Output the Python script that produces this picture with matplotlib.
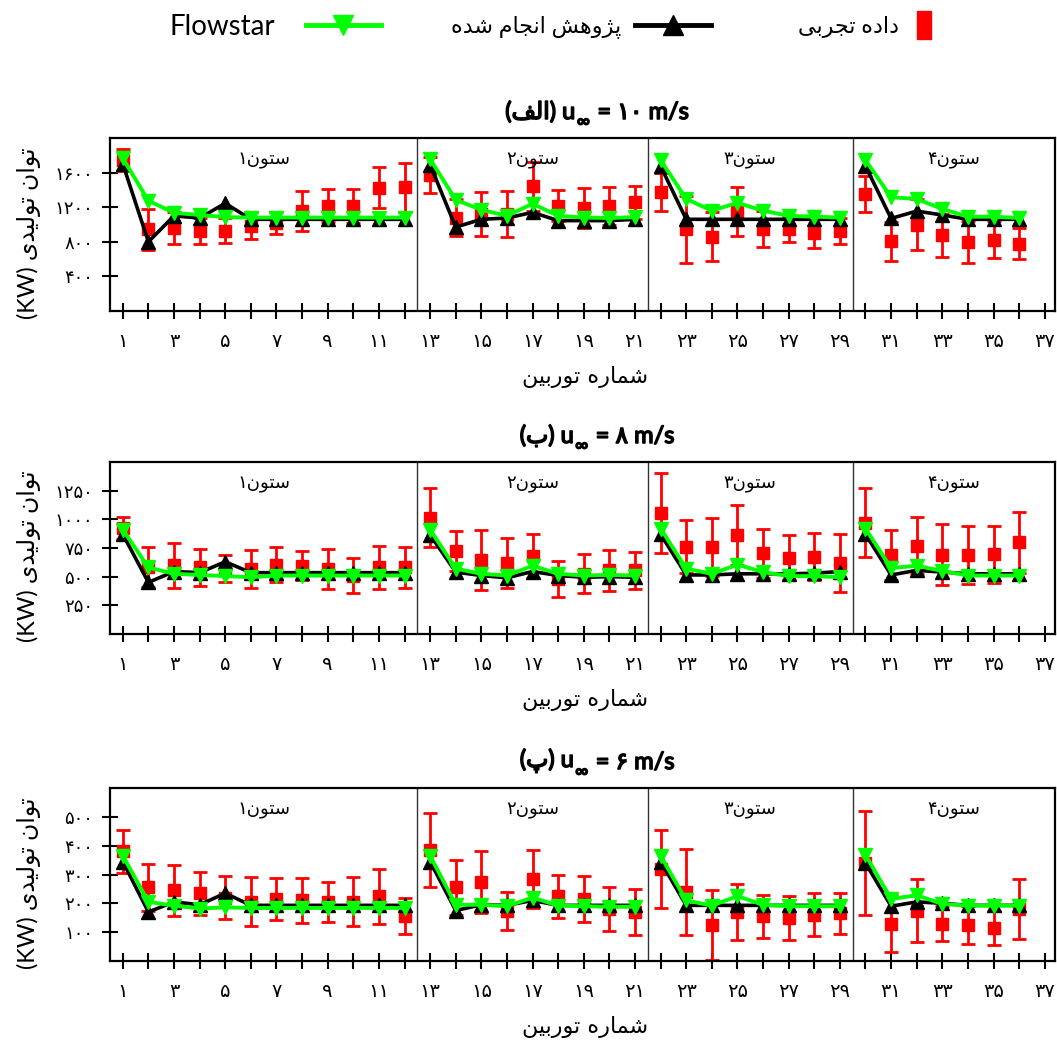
import matplotlib
matplotlib.use("Agg")
import matplotlib.pyplot as plt
import matplotlib.patheffects as pe
from matplotlib.lines import Line2D
from matplotlib.text import Annotation
import numpy as np

# ---- data -------------------------------------------------------------
turbines = np.arange(1, 37)
columns = [(1, 12), (13, 21), (22, 29), (30, 36)]
col_bounds = [0.5, 12.5, 21.5, 29.5, 37.4]

exp_10 = [1745, 945, 960, 925, 930, 985, 1020, 1160, 1215, 1215, 1425, 1430,
          1570, 1080, 1120, 1120, 1440, 1215, 1190, 1215, 1255,
          1375, 945, 860, 1150, 945, 950, 905, 925,
          1355, 805, 1000, 875, 800, 825, 780]
err_10 = [125, 235, 190, 150, 140, 155, 130, 230, 190, 200, 240, 285,
          210, 215, 250, 270, 285, 180, 235, 220, 190,
          215, 385, 280, 285, 210, 150, 175, 150,
          205, 225, 290, 245, 245, 215, 175]
sim_10 = [1700, 800, 1100, 1075, 1245, 1060, 1060, 1060, 1060, 1060, 1060, 1060,
          1690, 970, 1060, 1075, 1140, 1045, 1045, 1045, 1060,
          1675, 1060, 1060, 1060, 1060, 1060, 1060, 1060,
          1675, 1070, 1155, 1110, 1060, 1060, 1060]
flow_10 = [1765, 1275, 1135, 1110, 1085, 1080, 1080, 1080, 1080, 1080, 1080, 1080,
           1755, 1285, 1170, 1100, 1240, 1100, 1080, 1075, 1085,
           1745, 1295, 1160, 1250, 1160, 1100, 1090, 1080,
           1745, 1315, 1295, 1180, 1090, 1090, 1075]

exp_8 = [925, 585, 600, 580, 570, 570, 605, 595, 570, 510, 580, 580,
         1015, 725, 645, 620, 680, 480, 525, 555, 555,
         1055, 760, 760, 865, 705, 665, 675, 620,
         970, 690, 770, 690, 690, 695, 800]
err_8 = [95, 175, 195, 165, 115, 165, 150, 125, 175, 150, 190, 175,
         255, 175, 260, 215, 190, 160, 170, 180, 160,
         350, 230, 250, 260, 215, 195, 205, 255,
         300, 215, 250, 265, 255, 250, 265]
sim_8 = [870, 450, 545, 535, 630, 535, 535, 535, 535, 535, 535, 535,
         865, 540, 510, 490, 545, 510, 495, 500, 495,
         870, 515, 515, 525, 525, 525, 530, 545,
         870, 515, 555, 540, 525, 525, 525]
flow_8 = [910, 580, 525, 515, 505, 495, 510, 510, 510, 510, 510, 510,
          910, 570, 525, 510, 595, 525, 510, 515, 510,
          920, 570, 525, 605, 540, 505, 505, 495,
          920, 575, 595, 550, 510, 510, 510]

exp_6 = [380, 255, 245, 235, 220, 205, 215, 210, 205, 205, 225, 155,
         385, 255, 275, 175, 285, 225, 215, 180, 170,
         320, 240, 125, 170, 155, 150, 160, 165,
         340, 130, 175, 130, 125, 115, 180]
err_6 = [75, 80, 88, 75, 75, 85, 72, 77, 70, 85, 95, 62,
         128, 97, 108, 66, 100, 75, 80, 75, 80,
         136, 150, 120, 98, 75, 77, 75, 70,
         180, 100, 110, 62, 65, 60, 105]
sim_6 = [345, 170, 205, 195, 235, 193, 193, 193, 193, 193, 193, 193,
         345, 175, 195, 193, 210, 193, 193, 193, 193,
         345, 193, 193, 193, 193, 193, 193, 193,
         340, 190, 205, 200, 193, 193, 193]
flow_6 = [365, 205, 192, 182, 186, 184, 184, 184, 184, 184, 184, 184,
          365, 195, 195, 190, 220, 192, 190, 188, 188,
          365, 210, 192, 225, 195, 190, 190, 190,
          368, 215, 228, 198, 192, 192, 192]

speeds = ["۱۰", "۸", "۶"]
panel_letters = ["الف", "ب", "پ"]
y_limits = [2000, 1500, 600]
y_ticks = [[400, 800, 1200, 1600],
           [250, 500, 750, 1000, 1250],
           [100, 200, 300, 400, 500]]

# ---- Persian text helpers (no shaping engine in matplotlib) ------------
# isolated, final, initial, medial
FORMS = {
    "ا": ("\uFE8D", "\uFE8E", None, None),
    "ب": ("\uFE8F", "\uFE90", "\uFE91", "\uFE92"),
    "پ": ("\uFB56", "\uFB57", "\uFB58", "\uFB59"),
    "ت": ("\uFE95", "\uFE96", "\uFE97", "\uFE98"),
    "ج": ("\uFE9D", "\uFE9E", "\uFE9F", "\uFEA0"),
    "د": ("\uFEA9", "\uFEAA", None, None),
    "ر": ("\uFEAD", "\uFEAE", None, None),
    "ژ": ("\uFB8A", "\uFB8B", None, None),
    "س": ("\uFEB1", "\uFEB2", "\uFEB3", "\uFEB4"),
    "ش": ("\uFEB5", "\uFEB6", "\uFEB7", "\uFEB8"),
    "ف": ("\uFED1", "\uFED2", "\uFED3", "\uFED4"),
    "ل": ("\uFEDD", "\uFEDE", "\uFEDF", "\uFEE0"),
    "م": ("\uFEE1", "\uFEE2", "\uFEE3", "\uFEE4"),
    "ن": ("\uFEE5", "\uFEE6", "\uFEE7", "\uFEE8"),
    "ه": ("\uFEE9", "\uFEEA", "\uFEEB", "\uFEEC"),
    "و": ("\uFEED", "\uFEEE", None, None),
    "ی": ("\uFBFC", "\uFBFD", "\uFBFE", "\uFBFF"),
}


def fa(text):
    out = []
    for i, ch in enumerate(text):
        if ch not in FORMS:
            out.append(ch)
            continue
        prev = text[i - 1] if i > 0 else ""
        nxt = text[i + 1] if i + 1 < len(text) else ""
        join_prev = prev in FORMS and FORMS[prev][2] is not None
        join_next = FORMS[ch][2] is not None and nxt in FORMS
        iso, fin, ini, med = FORMS[ch]
        if join_prev and join_next:
            out.append(med)
        elif join_prev:
            out.append(fin)
        elif join_next:
            out.append(ini)
        else:
            out.append(iso)
    return "".join(reversed(out))


FA_DIGITS = str.maketrans("0123456789", "۰۱۲۳۴۵۶۷۸۹")


def fa_num(n):
    return str(n).translate(FA_DIGITS)


MIXED = ["Lato", "DejaVu Sans"]
plt.rcParams["font.family"] = ["DejaVu Sans"]

RED, BLACK, GREEN = "#ff0000", "#000000", "#00ff00"
# DejaVu Sans Bold has no Arabic glyphs, so titles get a thin outline instead
faux_bold = [pe.withStroke(linewidth=1.1, foreground="black")]

fig = plt.figure(figsize=(10.57, 10.41), dpi=100)
W, H = 1057.0, 1041.0

panels = [
    (exp_10, err_10, sim_10, flow_10, 138, 311),
    (exp_8, err_8, sim_8, flow_8, 462, 634),
    (exp_6, err_6, sim_6, flow_6, 788, 961),
]


def add_title(x_center, y_px, letter, speed):
    """Title "(x) u∞ = .. m/s" built from pieces so ∞ can sit as a subscript."""
    style = dict(family=MIXED, path_effects=faux_bold, va="bottom")
    head = fig.text(0, 1 - y_px / H, "(" + fa(letter) + ") u", ha="left",
                    fontsize=17, **style)
    sub = Annotation("∞", xy=(1, 0), xycoords=head, xytext=(1, -5),
                     textcoords="offset points", ha="left", fontsize=13,
                     **style)
    fig.add_artist(sub)
    tail = Annotation(" = " + speed + " m/s", xy=(1, 0), xycoords=(sub, head),
                      xytext=(1, 0), textcoords="offset points", ha="left",
                      fontsize=17, **style)
    fig.add_artist(tail)
    renderer = fig.canvas.get_renderer()
    x0 = head.get_window_extent(renderer).x0
    x1 = tail.get_window_extent(renderer).x1
    head.set_x((x_center - (x1 - x0) / 2) / W)


for k, (exp, err, sim, flow, top, bottom) in enumerate(panels):
    ax = fig.add_axes([110 / W, 1 - bottom / H, 945 / W, (bottom - top) / H])
    exp = np.asarray(exp, float)
    err = np.asarray(err, float)
    sim = np.asarray(sim, float)
    flow = np.asarray(flow, float)

    for a, b in columns:
        sel = (turbines >= a) & (turbines <= b)
        x = turbines[sel]
        ax.errorbar(x, exp[sel], yerr=err[sel], fmt="s", color=RED, ms=9,
                    ecolor=RED, elinewidth=2, capsize=5, capthick=2, zorder=2)
        ax.plot(x, sim[sel], "-^", color=BLACK, lw=2.6, ms=10, zorder=3)
        ax.plot(x, flow[sel], "-v", color=GREEN, lw=2.8, ms=10, zorder=4)

    for xb in col_bounds[1:-1]:
        ax.axvline(xb, color="#333333", lw=1.0, zorder=1)

    for c in range(4):
        xm = (col_bounds[c] + col_bounds[c + 1]) / 2
        ax.text(xm, 0.87, fa_num(c + 1) + fa("ستون"),
                transform=ax.get_xaxis_transform(), ha="center", va="center",
                fontsize=13)

    ax.set_xlim(col_bounds[0], col_bounds[-1])
    ax.set_ylim(0, y_limits[k])
    ax.set_xticks(np.arange(1, 38))
    ax.set_xticklabels([fa_num(i) if i % 2 else "" for i in range(1, 38)],
                       fontsize=14)
    ax.set_yticks(y_ticks[k])
    ax.set_yticklabels([fa_num(v) for v in y_ticks[k]], fontsize=13)
    ax.tick_params(axis="both", direction="inout", length=12, width=1.5)
    ax.tick_params(axis="x", pad=9)
    ax.tick_params(axis="y", pad=6)
    for sp in ax.spines.values():
        sp.set_linewidth(1.6)

    ax.set_ylabel("(KW) " + fa("توان تولیدی"), fontsize=17, family=MIXED)
    ax.yaxis.set_label_coords(-0.073, 0.45)
    ax.set_xlabel(fa("شماره توربین"), fontsize=16)
    ax.xaxis.set_label_coords(0.503, -0.32)

    add_title(597, top - 15, panel_letters[k], speeds[k])

# legend: three one-entry legends so each handle sits at its own distance
rect = [(-0.5, -1), (0.5, -1), (0.5, 1), (-0.5, 1), (-0.5, -1)]
entries = [
    (Line2D([], [], color=GREEN, lw=3.5, marker="v", ms=15), "Flowstar",
     20, 275, 2.7, 1.1),
    (Line2D([], [], color=BLACK, lw=3.5, marker="^", ms=15),
     fa("پژوهش انجام شده"), 16, 581, 3.4, 0.6),
    (Line2D([], [], color=RED, lw=0, marker=rect, ms=20),
     fa("داده تجربی"), 16, 868, 1.3, 0.5),
]
for handle, text, size, xc, hlen, hpad in entries:
    fig.legend([handle], [text], loc="center",
               bbox_to_anchor=(xc / W, 1 - 27 / H), frameon=False,
               markerfirst=False, handlelength=hlen, handletextpad=hpad,
               borderpad=0, prop={"family": MIXED, "size": size})

fig.savefig("out.png", dpi=100)
